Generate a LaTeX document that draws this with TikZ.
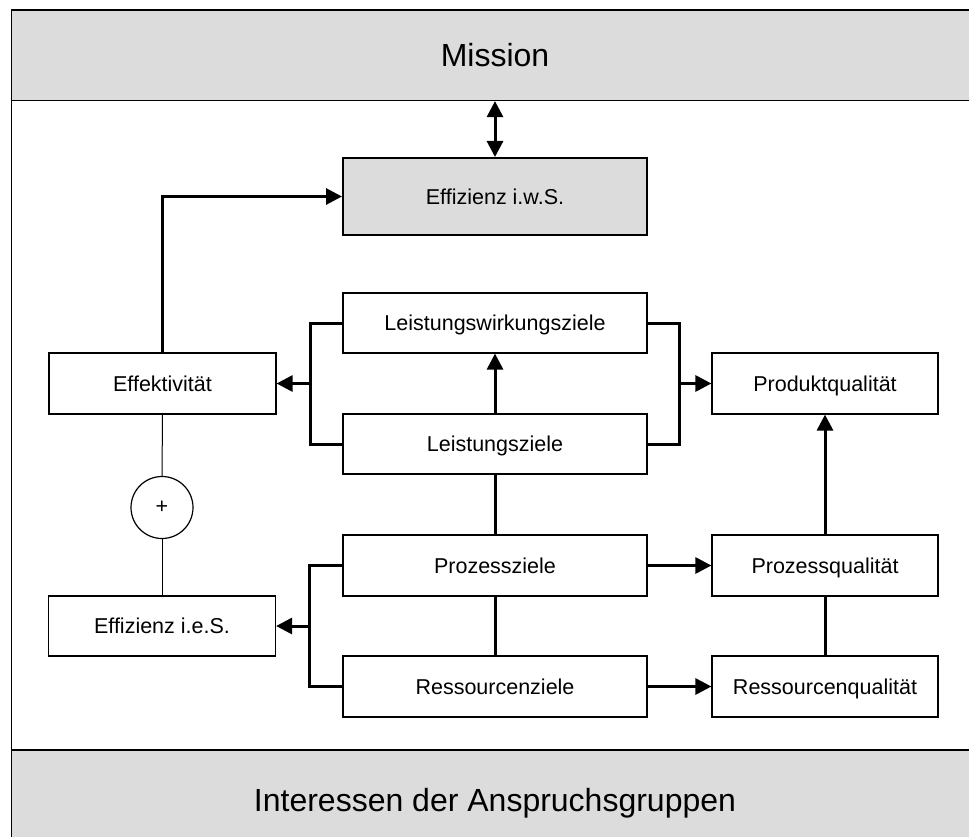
\documentclass[tikz,border=0pt]{standalone}
\usepackage{fontspec}
\setmainfont{Liberation Sans}
\usepackage{tikz}
\usetikzlibrary{arrows.meta}
\definecolor{bandc}{HTML}{DCDCDC}
\tikzset{
  ar/.style={-{Triangle[length=16pt,width=16pt]},line width=3pt},
  dar/.style={{Triangle[length=16pt,width=16pt]}-{Triangle[length=16pt,width=16pt]},line width=3pt},
  ln/.style={line width=3pt},
  thinln/.style={line width=1pt},
  box/.style={draw,line width=1.2pt,fill=white,inner sep=0pt,minimum height=61pt,
    font=\fontsize{21.5}{24}\selectfont,text height=15.5pt,text depth=0pt},
  zbox/.style={box,minimum width=304pt},
  qbox/.style={box,minimum width=227pt},
  band/.style={draw,line width=1.2pt,fill=bandc,inner sep=0pt,minimum width=967pt,
    font=\fontsize{32}{36}\selectfont,text height=23pt,text depth=0pt},
  nd/.style={circle,draw,line width=1.2pt,fill=white,minimum size=62pt,inner sep=0pt,
    font=\fontsize{21.5}{24}\selectfont}
}
\begin{document}
\begin{tikzpicture}[x=1pt,y=-1pt]
\useasboundingbox (0,0) rectangle (969,837);
% Rahmen und Baender
\node[band,minimum height=90.5pt] (mission) at (495,55.25) {Mission};
\node[band,minimum height=100pt] (interessen) at (495,800) {Interessen der Anspruchsgruppen};
\draw[line width=1.2pt] (11.5,10) rectangle (978.5,850);
% Ziele
\node[zbox,fill=bandc,line width=2pt,minimum height=77pt] (effiws) at (495,196.5) {Effizienz i.w.S.};
\node[zbox,minimum height=60pt] (lwz) at (495,323) {Leistungswirkungsziele};
\node[zbox,minimum height=60pt] (lz) at (495,444) {Leistungsziele};
\node[zbox] (pz) at (495,565.5) {Prozessziele};
\node[zbox] (rz) at (495,686.5) {Ressourcenziele};
% links
\node[qbox] (effekt) at (162.5,383.5) {Effektivität};
\node[qbox,minimum height=60pt] (effies) at (162,626) {Effizienz i.e.S.};
\node[nd] (plus) at (162,507.5) {+};
% rechts
\node[qbox,minimum width=226pt] (prq) at (825,383.5) {Produktqualität};
\node[qbox,minimum width=226pt] (pq) at (825,565.5) {Prozessqualität};
\node[qbox,minimum width=226pt] (rq) at (825,686.5) {Ressourcenqualität};
\coordinate (kl) at (310,383.5);
\coordinate (kr) at (679,383.5);
\coordinate (ku) at (309.5,626);
% Verbindungen
\draw[dar] (mission.south) -- (effiws.north);
\draw[ar] (effekt.north) |- (effiws.west);
\draw[ln] (lwz.west) -| (kl);
\draw[ln] (lz.west) -| (kl);
\draw[ar] (kl) -- (effekt.east);
\draw[ln] (lwz.east) -| (kr);
\draw[ln] (lz.east) -| (kr);
\draw[ar] (kr) -- (prq.west);
\draw[ar] (lz.north) -- (lwz.south);
\draw[ln] (pz.north) -- (lz.south);
\draw[ln] (rz.north) -- (pz.south);
\draw[ln] (pz.west) -| (ku);
\draw[ln] (rz.west) -| (ku);
\draw[ar] (ku) -- (effies.east);
\draw[ar] (pz.east) -- (pq.west);
\draw[ar] (rz.east) -- (rq.west);
\draw[ln] (rq.north) -- (pq.south);
\draw[ar] (pq.north) -- (prq.south);
\draw[thinln] (effekt.south) -- (plus.north);
\draw[thinln] (plus.south) -- (effies.north);
\end{tikzpicture}
\end{document}
